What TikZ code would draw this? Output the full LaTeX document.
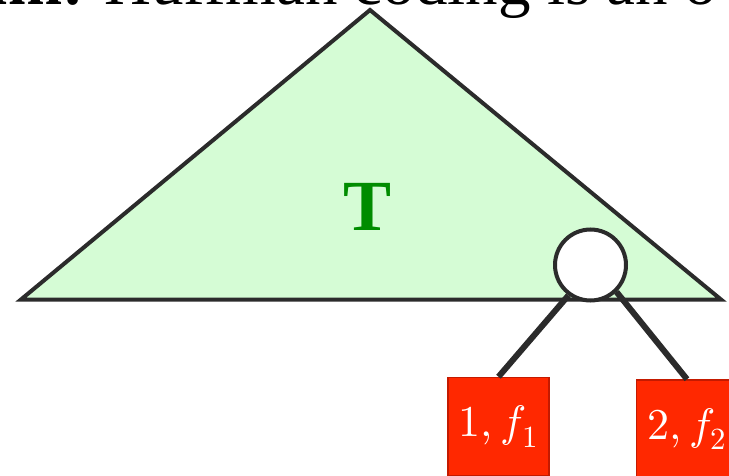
\documentclass[tikz,border=0pt]{standalone}
\usepackage{fontspec}
\usepackage{unicode-math}
\setmainfont{Liberation Serif}
\setmathfont{Latin Modern Math}
\usepackage{xcolor}
\definecolor{linegray}{HTML}{2B2B2B}
\definecolor{trifill}{HTML}{D5FCD5}
\definecolor{tgreen}{HTML}{008C00}
\definecolor{leafred}{HTML}{FF2800}
\definecolor{leafedge}{HTML}{C41A00}

\begin{document}
\begin{tikzpicture}[x=1pt,y=-1pt,
  tri/.style={draw=linegray,line width=4pt,fill=trifill,line join=miter},
  inner/.style={circle,draw=linegray,line width=4pt,fill=white,
               minimum size=71pt,inner sep=0pt},
  leaf/.style={draw=leafedge,line width=1.5pt,fill=leafred,minimum width=101pt,
               minimum height=98pt,inner sep=0pt,text=white,
               font=\fontsize{44}{48}\selectfont},
  edge/.style={draw=linegray,line width=6pt}]
  \useasboundingbox (0,0) rectangle (729,476);
  \node[anchor=base east,inner sep=0pt,font=\fontsize{65}{70}\selectfont\bfseries]
    (claim) at (84,5) {Claim:};
  \node[anchor=base west,inner sep=0pt,font=\fontsize{65}{70}\selectfont]
    (stmt) at (104,5) {Huffman coding is an o};
  \coordinate (apex) at (370,10);
  \coordinate (bl) at (21,299.5);
  \coordinate (br) at (721,299.5);
  \draw[tri] (apex) -- (br) -- (bl) -- cycle;
  \node[font=\fontsize{72}{76}\selectfont\bfseries,text=tgreen,inner sep=0pt]
    (tname) at (368,207) {T};
  \node[inner] (root) at (590.5,265) {};
  \node[leaf] (leaf1) at (498.5,426.5) {$1,f_1$};
  \node[leaf] (leaf2) at (687,429) {$2,f_2$};
  \draw[edge] (root.234) -- (leaf1.north);
  \draw[edge] (root.314) -- (leaf2.north);
\end{tikzpicture}
\end{document}
